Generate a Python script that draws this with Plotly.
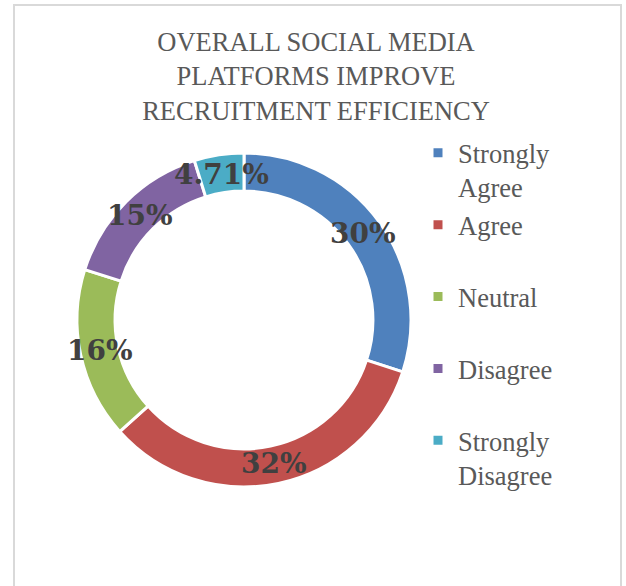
import math
import plotly.graph_objects as go

# ---- data ----
categories = ["Strongly Agree", "Agree", "Neutral", "Disagree", "Strongly Disagree"]
legend_labels = ["Strongly<br>Agree", "Agree<br>\u00a0", "Neutral<br>\u00a0", "Disagree<br>\u00a0", "Strongly<br>Disagree"]
values = [30.0, 33.3, 16.5, 15.3, 4.8]          # slice sizes read from the ring
label_text = ["30%", "32%", "16%", "15%", "4.71%"]  # labels as printed
colors = ["#4F81BD", "#C0504D", "#9BBB59", "#8064A2", "#4BACC6"]
title_text = "OVERALL SOCIAL MEDIA<br>PLATFORMS IMPROVE<br>RECRUITMENT EFFICIENCY"

W, H = 626, 586
dom_x = [77 / W, 411 / W]
dom_y = [1 - 487 / H, 1 - 153 / H]

fig = go.Figure()
fig.add_trace(go.Pie(
    labels=legend_labels,
    values=values,
    text=label_text,
    textinfo="none",
    hole=0.772,
    sort=False,
    direction="clockwise",
    rotation=0,
    marker=dict(colors=colors, line=dict(color="white", width=3)),
    domain=dict(x=dom_x, y=dom_y),
    hovertemplate="%{label}: %{text}<extra></extra>",
))

# data labels placed at each slice's mid-angle, on the middle of the ring
cx = (dom_x[0] + dom_x[1]) / 2 * W
cy = (1 - (dom_y[0] + dom_y[1]) / 2) * H
R = (dom_x[1] - dom_x[0]) * W / 2
r_lab = R * (1 + 0.772) / 2 - 1
total = sum(values)
cum = 0.0
for v, t in zip(values, label_text):
    mid = (cum + v / 2) / total * 2 * math.pi
    cum += v
    px = cx + r_lab * math.sin(mid)
    py = cy - r_lab * math.cos(mid)
    fig.add_annotation(
        x=px / W, y=1 - py / H, xref="paper", yref="paper",
        text=t, showarrow=False, xanchor="center", yanchor="middle",
        font=dict(family="DejaVu Serif", size=28, color="#404040", weight="bold"),
    )

fig.add_shape(type="rect", xref="paper", yref="paper",
              x0=14 / W, x1=621 / W, y0=-0.05, y1=1 - 5 / H,
              line=dict(color="#D9D9D9", width=2), fillcolor="rgba(0,0,0,0)", layer="below")

fig.update_layout(
    width=W, height=H,
    margin=dict(l=0, r=0, t=0, b=0),
    paper_bgcolor="white", plot_bgcolor="white",
    title=dict(text=title_text, x=316 / W, xanchor="center", xref="paper",
               y=1 - 51 / H, yanchor="top", yref="container",
               font=dict(family="Liberation Serif, serif", size=26.5, color="#595959")),
    legend=dict(x=418 / W, xanchor="left", y=1 - 129 / H, yanchor="top",
                valign="top", traceorder="normal",
                font=dict(family="Liberation Serif, serif", size=26.5, color="#595959"),
                bgcolor="rgba(0,0,0,0)"),
    showlegend=True,
)

fig.write_html("out.html")
